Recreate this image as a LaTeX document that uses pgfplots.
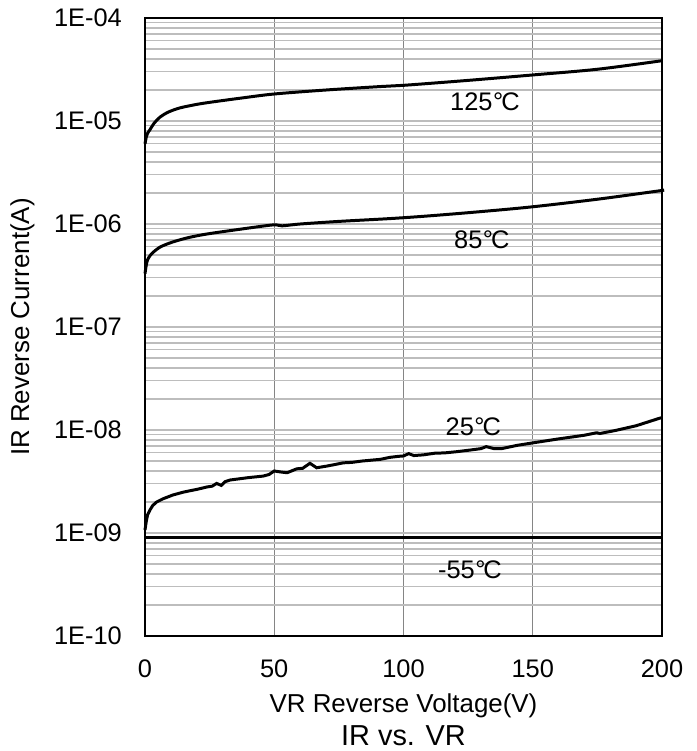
\documentclass[border=0pt]{standalone}
\usepackage{fontspec}
\setmainfont{Liberation Sans}
\usepackage{pgfplots}
\pgfplotsset{compat=1.18}

\newcommand{\tickfont}{\fontsize{25.5}{30}\selectfont}
\newcommand{\labfont}{\fontsize{26}{30}\selectfont}
\newcommand{\titfont}{\fontsize{29}{33}\selectfont}
\newcommand{\degC}{\kern0.02em°\kern-0.08emC}

\begin{document}
\begin{tikzpicture}
\begin{axis}[
    scale only axis,
    width=517bp, height=618bp,
    at={(0,0)}, anchor=south west,
    ymode=log,
    xmin=0, xmax=200,
    ymin=1e-10, ymax=1e-4,
    xtick={0,50,100,150,200},
    ytick={1e-10,1e-9,1e-8,1e-7,1e-6,1e-5,1e-4},
    yticklabels={1E-10,1E-09,1E-08,1E-07,1E-06,1E-05,1E-04},
    /pgf/number format/assume math mode=true,
    tick label style={font=\tickfont, inner sep=0pt},
    yticklabel style={anchor=east, xshift=-23bp},
    xticklabel style={anchor=base, yshift=-41bp},
    major tick length=0pt, minor tick length=0pt,
    xmajorgrids, ymajorgrids, yminorgrids,
    x grid style={color=black!48, line width=1.2pt},
    y grid style={color=black!26, line width=1.2pt},
    axis line style={line width=1.4pt, black},
    clip=false,
]
% 125 C
\addplot[black, line width=3pt, smooth] coordinates {
  (0,6.0e-6) (0.5,7.0e-6) (1,7.6e-6) (2,8.3e-6) (3.5,9.5e-6) (5.8,1.09e-5)
  (9,1.22e-5) (13.5,1.34e-5) (20,1.45e-5) (26,1.53e-5) (38,1.68e-5)
  (50,1.83e-5) (70,2.0e-5) (91,2.16e-5) (100,2.22e-5) (125,2.48e-5)
  (150,2.8e-5) (175,3.18e-5) (200,3.85e-5)};
% 85 C
\addplot[black, line width=3pt, smooth] coordinates {
  (0,3.3e-7) (0.5,4.0e-7) (1,4.5e-7) (2,4.95e-7) (3.1,5.3e-7) (6,6.0e-7)
  (10.8,6.7e-7) (17,7.4e-7) (24,8.0e-7) (36.8,8.9e-7) (49.5,9.8e-7)
  (53,9.6e-7) (60,1.0e-6) (75,1.06e-6) (95,1.13e-6) (110,1.2e-6)
  (130,1.32e-6) (150,1.47e-6) (175,1.74e-6) (199,2.1e-6) (200,2.12e-6)};
% 25 C
\addplot[black, line width=3pt] coordinates {
  (0,1.07e-9) (0.5,1.3e-9) (1,1.5e-9) (1.9,1.67e-9) (3,1.85e-9) (4.5,2.0e-9)
  (7,2.15e-9) (10.8,2.34e-9) (15,2.5e-9) (20,2.65e-9) (24,2.8e-9)
  (26,2.85e-9) (27.7,3.03e-9) (29.5,2.9e-9) (31,3.15e-9) (32.9,3.27e-9)
  (40,3.45e-9) (45.7,3.57e-9) (48,3.7e-9) (50,4.0e-9) (52.9,3.9e-9)
  (55,3.85e-9) (58.7,4.2e-9) (61,4.25e-9) (63.8,4.75e-9) (66.4,4.3e-9)
  (70,4.45e-9) (73,4.6e-9) (76.7,4.8e-9) (80,4.85e-9) (84,5.0e-9)
  (91,5.19e-9) (94.8,5.43e-9) (98,5.55e-9) (100,5.6e-9) (102,5.9e-9)
  (104,5.65e-9) (107.7,5.74e-9) (112,5.95e-9) (116,6.0e-9) (120.6,6.16e-9)
  (126,6.4e-9) (130,6.6e-9) (132,6.9e-9) (135,6.6e-9) (138,6.6e-9)
  (144,7.1e-9) (150,7.5e-9) (160,8.2e-9) (170,8.9e-9) (174.7,9.4e-9)
  (176,9.25e-9) (182,9.9e-9) (190,1.1e-8) (199,1.3e-8) (200,1.32e-8)};
% -55 C
\addplot[black, line width=3pt] coordinates {(0,9.0e-10) (200,9.0e-10)};

\node[font=\tickfont] at (axis cs:131.5,1.53e-5) {125\degC};
\node[font=\tickfont] at (axis cs:130.3,7.0e-7) {85\degC};
\node[font=\tickfont] at (axis cs:127,1.08e-8) {25\degC};
\node[font=\tickfont] at (axis cs:125.7,4.4e-10) {-55\degC};

\node[font=\labfont, anchor=base, inner sep=0pt] at (axis description cs:0.5,-0.1245) {VR Reverse Voltage(V)};
\node[font=\titfont, anchor=base, inner sep=0pt] at (axis description cs:0.5,-0.1765) {IR vs. VR};
\node[font=\labfont, rotate=90, inner sep=0pt] at (axis description cs:-0.237,0.5) {IR Reverse Current(A)};
\end{axis}
\pgfresetboundingbox
\useasboundingbox (-145bp,-115bp) rectangle (552bp,636bp);
\end{tikzpicture}
\end{document}
